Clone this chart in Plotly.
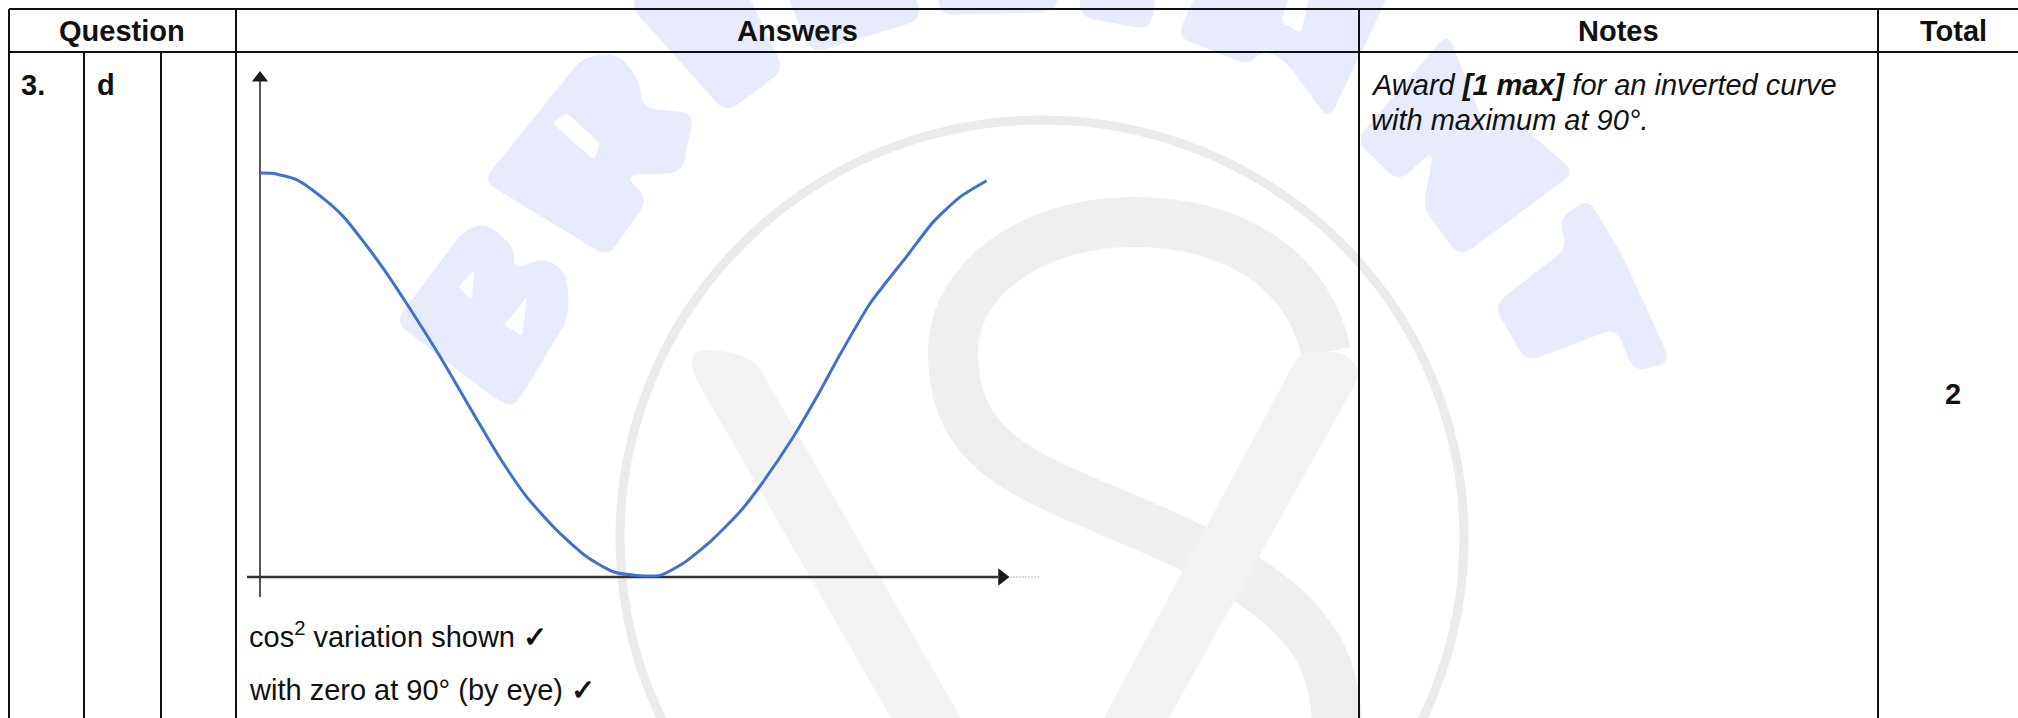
import plotly.graph_objects as go

# ---- data ----
angle_deg = [0, 3.2, 8.8, 15.1, 19.9, 24.7, 29.4, 35.0, 43.0, 50.9, 57.3, 63.6, 70.8, 78.0, 84.3, 89.9,
             95.5, 101.0, 107.4, 114.6, 120.1, 127.3, 132.9, 138.4, 145.6, 154.3, 160.7, 167.1, 173.4]
intensity = [1.0, 0.999, 0.983, 0.937, 0.892, 0.830, 0.764, 0.677, 0.545, 0.405, 0.294, 0.199, 0.116, 0.050, 0.013, 0.004,
             0.004, 0.034, 0.087, 0.162, 0.236, 0.347, 0.446, 0.550, 0.677, 0.793, 0.879, 0.941, 0.981]
header_labels = ["Question", "Answers", "Notes", "Total"]
row_labels = ["3.", "d"]
answer_lines = ["cos<sup>2</sup> variation shown <b>\u2713</b>", "with zero at 90\u00b0 (by eye) <b>\u2713</b>"]
note_lines = ["<i>Award <b>[1 max]</b> for an inverted curve</i>", "<i>with maximum at 90\u00b0.</i>"]
total_label = "2"

W, H = 2018, 718
FONT = "Liberation Sans"
TXT = "#111111"
SIZE = 29

# data <-> pixel mapping of the embedded graph
X0, PX_DEG = 260, 4.19
Y0, PX_UNIT = 577, 404


def px(x):
    return x / W


def py(y):
    return 1 - y / H


def rounded(pts, r=14):
    """closed polygon path with softened corners (pixel points)"""
    n = len(pts)
    d = []
    for i in range(n):
        p0, p1, p2 = pts[i - 1], pts[i], pts[(i + 1) % n]

        def toward(a, b):
            L = ((a[0] - b[0]) ** 2 + (a[1] - b[1]) ** 2) ** 0.5
            t = min(r, L / 2) / L if L else 0
            return (a[0] + (b[0] - a[0]) * t, a[1] + (b[1] - a[1]) * t)
        a, b = toward(p1, p0), toward(p1, p2)
        d.append(("M " if i == 0 else "L ") + f"{px(a[0]):.5f},{py(a[1]):.5f}")
        d.append(f"Q {px(p1[0]):.5f},{py(p1[1]):.5f} {px(b[0]):.5f},{py(b[1]):.5f}")
    return " ".join(d) + " Z"


shapes = []
BLUE_WM = "#e8ebfb"
# watermark letters
letters = [
    [(395, 322), (464, 230), (487, 223), (514, 247), (514, 270), (545, 257), (567, 273), (569, 317), (522, 395), (512, 407), (493, 397)],
    [(483, 181), (583, 57), (617, 53), (640, 80), (642, 108), (694, 113), (682, 173), (625, 175), (648, 200), (608, 257)],
    [(631, 7), (640, -6), (748, -6), (784, 70), (726, 113)],
    [(786, -6), (812, 53), (921, 20), (916, -6)],
    [(937, -6), (941, 15), (1053, 12), (1060, -6)],
    [(1079, -6), (1081, 17), (1150, 30), (1157, -6)],
    [(1196, -6), (1177, 37), (1249, 65), (1262, 50), (1285, 60), (1329, 120), (1389, -6)],
    [(1448, 33), (1490, 140), (1501, 108), (1575, 172), (1460, 257), (1423, 208), (1434, 150), (1398, 182), (1356, 140)],
    [(1588, 198), (1558, 220), (1568, 247), (1494, 305), (1526, 362), (1616, 328), (1634, 372), (1671, 362), (1623, 257)],
]
for L in letters:
    shapes.append(dict(type="path", path=rounded(L), xref="paper", yref="paper", fillcolor=BLUE_WM,
                       line=dict(width=0), layer="below"))
holes = [
    [(474, 270), (458, 287), (472, 300)],
    [(527, 297), (504, 325), (522, 336)],
    [(552, 123), (567, 113), (600, 143), (594, 160)],
    [(1281, 22), (1301, 33), (1310, -6), (1290, -6)],
]
for L in holes:
    shapes.append(dict(type="path", path=rounded(L, 4), xref="paper", yref="paper", fillcolor="#ffffff",
                       line=dict(width=0), layer="below"))
# ring
shapes.append(dict(type="circle", xref="paper", yref="paper", x0=px(620), x1=px(1464), y0=py(120), y1=py(956),
                   line=dict(color="#ebebeb", width=9), fillcolor="rgba(0,0,0,0)", layer="below"))
# S band
S = (f"M {px(1326)},{py(352)} C {px(1310)},{py(275)} {px(1240)},{py(222)} {px(1134)},{py(222)} "
     f"C {px(1030)},{py(222)} {px(953)},{py(280)} {px(953)},{py(352)} "
     f"C {px(953)},{py(470)} {px(1050)},{py(480)} {px(1193)},{py(548)} "
     f"C {px(1290)},{py(600)} {px(1335)},{py(640)} {px(1337)},{py(725)}")
shapes.append(dict(type="path", path=S, xref="paper", yref="paper", line=dict(color="#efefef", width=50),
                   fillcolor="rgba(0,0,0,0)", layer="below"))
# crossing strokes
for pts in ([(692, 350), (722, 350), (755, 360), (965, 725), (895, 725), (692, 372)],
            [(1300, 352), (1345, 352), (1362, 372), (1165, 725), (1100, 725)]):
    shapes.append(dict(type="path", path=rounded(pts, 14), xref="paper", yref="paper", fillcolor="#f3f3f3",
                       line=dict(width=0), layer="below"))
# table rules
RULE = dict(color="#111111", width=2)
for x0, y0, x1, y1 in [(9, 9, W, 9), (9, 52, W, 52), (9, 9, 9, H), (236, 9, 236, H), (1359, 9, 1359, H),
                       (1878, 9, 1878, H), (84, 52, 84, H), (161, 52, 161, H)]:
    shapes.append(dict(type="line", xref="paper", yref="paper", x0=px(x0), y0=py(y0), x1=px(x1), y1=py(y1),
                       line=RULE, layer="above"))

fig = go.Figure()
dark = "#333333"
to_deg = lambda x: (x - X0) / PX_DEG
to_val = lambda y: (Y0 - y) / PX_UNIT
# axes
fig.add_trace(go.Scatter(x=[0, 0], y=[to_val(597), to_val(80)], mode="lines", line=dict(color="#555555", width=2)))
fig.add_trace(go.Scatter(x=[to_deg(247), to_deg(998)], y=[0, 0], mode="lines", line=dict(color=dark, width=2.5)))
fig.add_trace(go.Scatter(x=[to_deg(1010), to_deg(1040)], y=[0, 0], mode="lines", line=dict(color="#cfcfcf", width=1.5, dash="2px,1px")))
fig.add_trace(go.Scatter(x=[0], y=[to_val(78)], mode="markers", marker=dict(symbol="triangle-up", size=14, color="#1a1a1a")))
fig.add_trace(go.Scatter(x=[to_deg(1002)], y=[0], mode="markers", marker=dict(symbol="triangle-right", size=15, color="#1a1a1a")))
# curve
fig.add_trace(go.Scatter(x=angle_deg, y=intensity, mode="lines",
                         line=dict(color="#3f72cc", width=3, shape="spline", smoothing=0.6)))


def label(text, x, y, anchor="left", size=SIZE, color=TXT):
    fig.add_annotation(text=text, xref="paper", yref="paper", x=px(x), y=py(y), xanchor=anchor, yanchor="middle",
                       showarrow=False, font=dict(family=FONT, size=size, color=color), align="left",
                       borderpad=0, borderwidth=0)


for t, x in zip(header_labels, [122, 797, 1618, 1953]):
    label(f"<b>{t}</b>", x, 31, "center")
label(f"<b>{row_labels[0]}</b>", 21, 85)
label(f"<b>{row_labels[1]}</b>", 97, 85)
label(answer_lines[0], 249, 635)
label(answer_lines[1], 249, 690)
label(note_lines[0], 1371, 85)
label(note_lines[1], 1371, 120)
label(f"<b>{total_label}</b>", 1953, 394, "center")

fig.update_layout(
    width=W, height=H, margin=dict(l=0, r=0, t=0, b=0), showlegend=False,
    paper_bgcolor="#ffffff", plot_bgcolor="rgba(0,0,0,0)", shapes=shapes,
    xaxis=dict(visible=False, range=[to_deg(0), to_deg(W)], domain=[0, 1], fixedrange=True),
    yaxis=dict(visible=False, range=[to_val(H), to_val(0)], domain=[0, 1], fixedrange=True),
)
fig.write_html("out.html", config={"displayModeBar": False},
               post_script="document.body.style.margin='0';document.body.style.overflow='hidden';")
